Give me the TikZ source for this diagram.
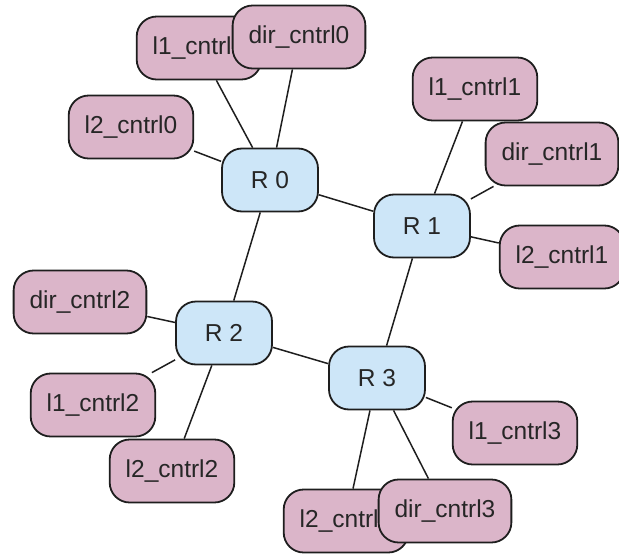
\documentclass[tikz,border=0pt]{standalone}
\usepackage{fontspec}
\setmainfont{Liberation Sans}
\usetikzlibrary{backgrounds}
\definecolor{ctrlfill}{RGB}{219,181,201}
\definecolor{routerfill}{RGB}{205,230,248}
\definecolor{edgeink}{RGB}{30,30,30}
\begin{document}
\begin{tikzpicture}[x=1pt,y=-1pt,
  base/.style={draw=edgeink, line width=1.8pt, rounded corners=20pt,
    font=\fontsize{24.5}{28}\selectfont, text=black!85,
    minimum height=63pt, inner ysep=0pt},
  ctrl/.style={base, fill=ctrlfill, inner xsep=16pt},
  router/.style={base, fill=routerfill, minimum width=96pt},
  link/.style={draw=edgeink, line width=1.5pt}]
\useasboundingbox (0,0) rectangle (619,557);

% routers
\node[router] (r0) at (270,180) {R 0};
\node[router] (r1) at (422,226) {R 1};
\node[router] (r2) at (224,333) {R 2};
\node[router] (r3) at (377,378) {R 3};

% controllers of R 0
\node[ctrl] (l1c0) at (199,48) {l1\_cntrl0};
\node[ctrl] (dc0) at (299,37) {dir\_cntrl0};
\node[ctrl] (l2c0) at (131,127) {l2\_cntrl0};

% controllers of R 1
\node[ctrl] (l1c1) at (475,89) {l1\_cntrl1};
\node[ctrl] (dc1) at (552,154) {dir\_cntrl1};
\node[ctrl] (l2c1) at (562,257) {l2\_cntrl1};

% controllers of R 2
\node[ctrl] (dc2) at (80,302) {dir\_cntrl2};
\node[ctrl] (l1c2) at (93,405) {l1\_cntrl2};
\node[ctrl] (l2c2) at (172,471) {l2\_cntrl2};

% controllers of R 3
\node[ctrl] (l1c3) at (515,433) {l1\_cntrl3};
\node[ctrl] (l2c3) at (346,521) {l2\_cntrl3};
\node[ctrl] (dc3) at (445,511) {dir\_cntrl3};

\begin{scope}[on background layer]
  % router ring
  \draw[link] (r0) -- (r1);
  \draw[link] (r0) -- (r2);
  \draw[link] (r1) -- (r3);
  \draw[link] (r2) -- (r3);
  % controller attachments
  \foreach \c in {l1c0,dc0,l2c0} \draw[link] (\c) -- (r0);
  \foreach \c in {l1c1,dc1,l2c1} \draw[link] (\c) -- (r1);
  \foreach \c in {dc2,l1c2,l2c2} \draw[link] (\c) -- (r2);
  \foreach \c in {l1c3,l2c3,dc3} \draw[link] (\c) -- (r3);
\end{scope}
\end{tikzpicture}
\end{document}
